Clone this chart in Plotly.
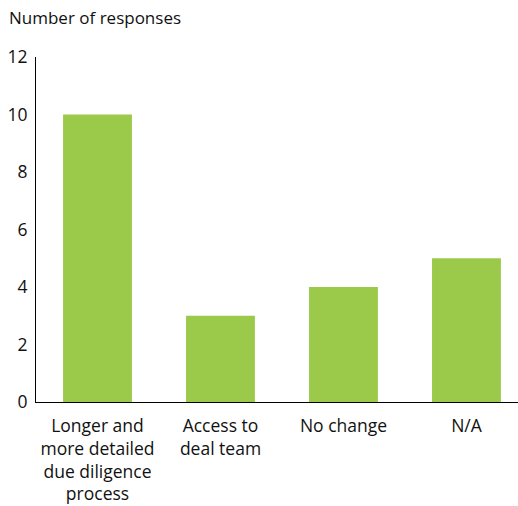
import plotly.graph_objects as go

# Survey responses per category
categories = [
    "Longer and<br>more detailed<br>due diligence<br>process",
    "Access to<br>deal team",
    "No change",
    "N/A",
]
responses = [10, 3, 4, 5]
y_ticks = [0, 2, 4, 6, 8, 10, 12]

BAR_GREEN = "#9bca4b"
TEXT = "#111111"
FONT = "Open Sans"
SIZE = 17.5

fig = go.Figure(
    go.Bar(
        x=list(range(len(categories))),
        y=responses,
        marker=dict(color=BAR_GREEN, line=dict(width=0)),
        width=0.56,
        hoverinfo="skip",
    )
)

fig.update_layout(
    width=518,
    height=506,
    margin=dict(l=36, r=0, t=57, b=104),
    paper_bgcolor="white",
    plot_bgcolor="white",
    showlegend=False,
    font=dict(family=FONT, size=SIZE, color=TEXT),
    annotations=[
        dict(
            text="Number of responses",
            xref="paper", yref="paper",
            x=0, y=1,
            xshift=-29, yshift=26,
            xanchor="left", yanchor="bottom",
            showarrow=False,
            font=dict(family=FONT, size=17, color=TEXT),
        )
    ],
)

fig.update_xaxes(
    range=[-0.5, 3.419],
    tickmode="array",
    tickvals=list(range(len(categories))),
    ticktext=categories,
    showline=True,
    linecolor="black",
    linewidth=1,
    showgrid=False,
    zeroline=False,
    ticks="",
    ticklabelstandoff=8,
    tickfont=dict(family=FONT, size=SIZE, color=TEXT),
    fixedrange=True,
)

fig.update_yaxes(
    range=[0, 12],
    tickmode="array",
    tickvals=y_ticks,
    ticktext=[str(v) for v in y_ticks],
    showline=True,
    linecolor="black",
    linewidth=1,
    showgrid=False,
    zeroline=False,
    ticks="",
    ticklabelstandoff=4,
    tickfont=dict(family=FONT, size=SIZE, color=TEXT),
    fixedrange=True,
)

fig.write_html("out.html", config={"displayModeBar": False})
